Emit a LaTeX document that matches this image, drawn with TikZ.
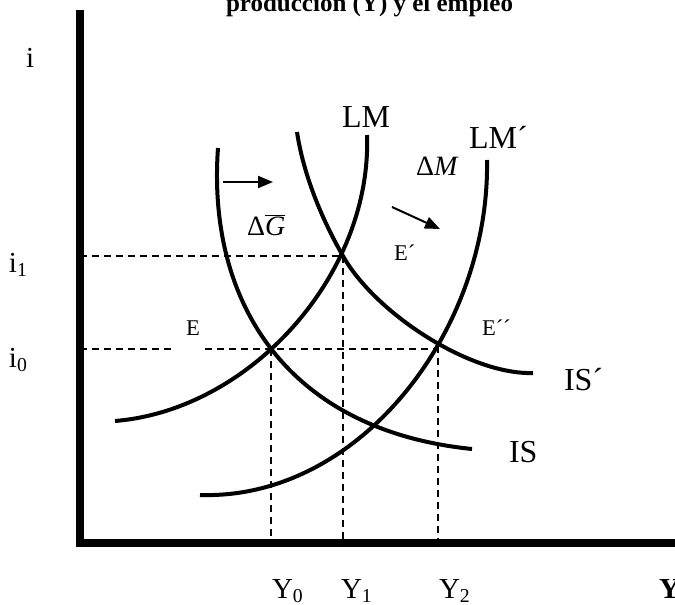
\documentclass[tikz,border=0pt]{standalone}
\usepackage{fontspec}
\setmainfont{Liberation Serif}
\usetikzlibrary{arrows.meta}
\newcommand\mysubs[1]{\raisebox{-0.15em}{\scalebox{0.68}{#1}}}
\newcommand\fbig{\fontsize{32}{36}\selectfont}
\newcommand\faxis{\fontsize{29}{32}\selectfont}
\newcommand\fsmall{\fontsize{22.5}{25}\selectfont}
\newcommand\fdelta{\fontsize{28}{31}\selectfont}
\begin{document}
\begin{tikzpicture}[x=1pt,y=-1pt,
  curve/.style={line width=4pt},
  axisline/.style={line width=7.5pt,line join=miter},
  guide/.style={line width=1.6pt,dash pattern=on 7pt off 5pt},
  shiftarrow/.style={line width=2pt,-{Triangle[length=15pt,width=12pt]}},
  lab/.style={anchor=base west,inner sep=0pt,outer sep=0pt}]
\useasboundingbox (0,0) rectangle (675,605);

% title (cropped at the top as in the reference)
\node[lab,font=\bfseries\fontsize{25}{28}\selectfont] (title) at (226,12) {producción (Y) y el empleo};

% equilibrium points
\coordinate (E0) at (271,349);
\coordinate (E1) at (343,256);
\coordinate (E2) at (438,346);
\coordinate (origin) at (80,543);

% guide lines
\draw[guide] (80,256) -- (E1);
\draw[guide] (80,349) -- (172,349);
\draw[guide] (205,349) -- (E2 |- E0);
\draw[guide] (E0) -- (E0 |- origin);
\draw[guide] (E1) -- (E1 |- origin);
\draw[guide] (E2) -- (E2 |- origin);

% curves
% IS
\draw[curve] (218,148) .. controls (207,300) and (285,430) .. (472,449);
% IS'
\draw[curve] (297,132) .. controls (303,172) and (320,216) .. (E1)
                       .. controls (375,313) and (470,375) .. (533,373);
% LM
\draw[curve] (115,421) .. controls (250,410) and (372,275) .. (367,135);
% LM'
\draw[curve] (200,495) .. controls (360,500) and (490,330) .. (487,160);

% axes
\draw[axisline] (80,10) -- (origin) -- (680,543);

% shift arrows
\coordinate (g1) at (223,182);
\coordinate (g2) at (273,182);
\coordinate (m1) at (392,207);
\coordinate (m2) at (440,229);
\draw[shiftarrow] (g1) -- (g2);
\draw[shiftarrow] (m1) -- (m2);

% labels
\node[lab,font=\faxis] (iax) at (26,67) {i};
\node[lab,font=\faxis] (i1) at (9,272) {i\mysubs{1}};
\node[lab,font=\faxis] (i0) at (9,367) {i\mysubs{0}};
\node[lab,font=\faxis] (y0) at (272,598) {Y\mysubs{0}};
\node[lab,font=\faxis] (y1) at (341,598) {Y\mysubs{1}};
\node[lab,font=\faxis] (y2) at (439,598) {Y\mysubs{2}};
\node[lab,font=\bfseries\faxis] (yax) at (659,598) {Y};

\node[lab,font=\fbig] (lm) at (342,127) {LM};
\node[lab,font=\fbig] (lmp) at (469,148) {LM´};
\node[lab,font=\fbig] (isp) at (564,390) {IS´};
\node[lab,font=\fbig] (is) at (509,462) {IS};

\node[lab,font=\fsmall] (e0) at (186,335) {E};
\node[lab,font=\fsmall] (e1) at (394,260) {E´};
\node[lab,font=\fsmall] (e2) at (482,335) {E´´};

\node[lab,font=\fdelta] (dg) at (247,235) {Δ$\overline{\mbox{\itshape G}}$};
\node[lab,font=\fdelta] (dm) at (416,175) {Δ\textit{M}};
\end{tikzpicture}
\end{document}
